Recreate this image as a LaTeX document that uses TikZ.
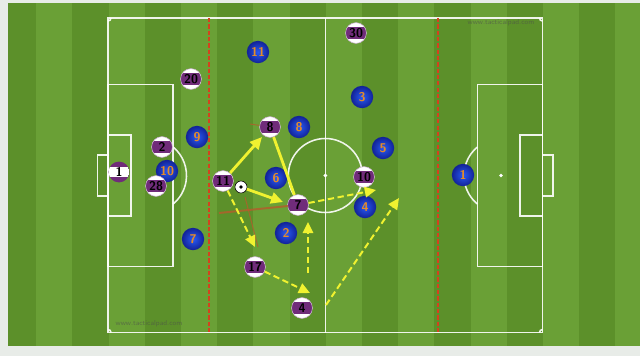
\documentclass[tikz,border=0pt]{standalone}
\usepackage{tikz}
\usetikzlibrary{arrows.meta}
\definecolor{grasslight}{RGB}{106,160,54}
\definecolor{grassdark}{RGB}{92,144,42}
\definecolor{bordergray}{RGB}{232,236,232}
\definecolor{zonered}{RGB}{212,66,30}
\definecolor{passyellow}{RGB}{240,242,48}
\definecolor{runbrown}{RGB}{176,96,44}
\definecolor{shirtpurple}{RGB}{112,44,122}
\definecolor{shirtblue}{RGB}{40,90,245}
\definecolor{rimblue}{RGB}{18,34,150}
\definecolor{numorange}{RGB}{230,140,40}

\begin{document}
\begin{tikzpicture}[x=0.025cm, y=-0.025cm,
    pitchline/.style={white, line width=1.1pt, opacity=0.9},
    zone/.style={zonered, line width=1.4pt, dash pattern=on 3pt off 1.5pt},
    home/.style={circle, fill=white, draw=shirtpurple!40, minimum size=0.52cm, inner sep=0pt,
        font=\sffamily\bfseries\small, text=black,
        path picture={\fill[shirtpurple] ([yshift=-4pt]path picture bounding box.west) rectangle ([yshift=4pt]path picture bounding box.east);}},
    keeper/.style={circle, fill=shirtpurple, minimum size=0.52cm, inner sep=0pt,
        font=\sffamily\bfseries\small, text=black,
        path picture={\fill[white] ([yshift=-3.6pt]path picture bounding box.west) rectangle ([yshift=3.6pt]path picture bounding box.east);}},
    away/.style={circle, inner color=shirtblue, outer color=rimblue, minimum size=0.56cm, inner sep=0pt,
        font=\sffamily\bfseries\small, text=numorange},
    ballnode/.style={circle, fill=white, draw=black, minimum size=0.3cm, inner sep=0pt,
        path picture={\fill[black] (path picture bounding box.center) circle[radius=1.4pt];}},
    pass/.style={passyellow, line width=2pt, -{Triangle[length=3mm, width=2.8mm]}},
    run/.style={passyellow, line width=1.4pt, dash pattern=on 4.5pt off 2.5pt, -{Triangle[length=2.8mm, width=2.6mm]}},
    drift/.style={runbrown, line width=1.4pt, opacity=0.85},
    credit/.style={font=\sffamily\tiny, text=black!70, opacity=0.6, inner sep=0pt}]

\useasboundingbox (0,0) rectangle (640,356);
\fill[bordergray] (0,0) rectangle (640,356);
\begin{scope}
\clip (8,3) rectangle (640,346);
\fill[grasslight] (8,3) rectangle (640,346);
\foreach \i in {0,2,...,16}
    \fill[grassdark] ({\i*36.2},3) rectangle ({\i*36.2+36.2},346);
\end{scope}

% pitch
\draw[pitchline] (108,18) rectangle (542.5,332.5);
\draw[pitchline] (325.3,18) -- (325.3,332.5);
\draw[pitchline] (325.3,175.5) circle[radius=0.925cm];
\fill[white] (325.3,175.5) circle[radius=1.4pt];
\draw[pitchline] (108,84.5) rectangle (173,266.5);
\draw[pitchline] (108,135) rectangle (131,216);
\draw[pitchline] (97.5,155) rectangle (108,196);
\draw[pitchline] (173,146.9) arc[start angle=50.6, end angle=-50.6, radius=0.925cm];
\draw[pitchline] (477.5,84.5) rectangle (542.5,266.5);
\draw[pitchline] (520,135) rectangle (542.5,216);
\draw[pitchline] (542.5,155) rectangle (553,196);
\draw[pitchline] (477.5,146.9) arc[start angle=129.4, end angle=230.6, radius=0.925cm];
\fill[white] (501,175.5) circle[radius=1.4pt];
\draw[pitchline] (111,18) arc[start angle=0, end angle=-90, radius=0.075cm];
\draw[pitchline] (539.5,18) arc[start angle=180, end angle=270, radius=0.075cm];
\draw[pitchline] (108,329.5) arc[start angle=90, end angle=0, radius=0.075cm];
\draw[pitchline] (539.5,332.5) arc[start angle=180, end angle=90, radius=0.075cm];
\draw[zone] (209,18) -- (209,332.5);
\draw[zone] (438,18) -- (438,332.5);

\node[credit] (credL) at (149,324) {www.tacticalpad.com};
\node[credit] (credR) at (501,23) {www.tacticalpad.com};

% blue team
\node[away] (a11) at (258,52) {11};
\node[away] (a9) at (197,137) {9};
\node[away] (a10) at (167,171) {10};
\node[away] (a7) at (193,239) {7};
\node[away] (a8) at (299,127) {8};
\node[away] (a6) at (276,178) {6};
\node[away] (a2) at (286,233) {2};
\node[away] (a3) at (362,97) {3};
\node[away] (a5) at (383,148) {5};
\node[away] (a4) at (365,207) {4};
\node[away] (a1) at (463,175) {1};

% purple team
\node[keeper] (gk) at (119,172) {1};
\node[home] (h2) at (162,147) {2};
\node[home] (h28) at (156,186) {28};
\node[home] (h20) at (191,79) {20};
\node[home] (h11) at (223,181) {11};
\node[home] (h8) at (270,127) {8};
\node[home] (h7) at (298,205) {7};
\node[home] (h17) at (255,267) {17};
\node[home] (h4) at (302,308) {4};
\node[home] (h10) at (364,177) {10};
\node[home] (h30) at (356,33) {30};
\node[ballnode] (ball) at (241,187) {};

\coordinate (d1s) at (219,213);
\coordinate (d1e) at (288,206);
\coordinate (d2s) at (245,197);
\coordinate (d2e) at (258,247);
\coordinate (d3s) at (250,124);
\draw[drift] (d1s) -- (d1e);
\draw[drift, line width=0.7pt] (d2s) -- (d2e);
\draw[drift, line width=0.7pt] (d3s) -- (h8);

\coordinate (t8) at (262,137);
\coordinate (t7) at (283,202);
\draw[pass] (h11) -- (t8);
\draw[pass, -] (h8) -- (h7);
\draw[pass] (ball) -- (t7);

\coordinate (r1) at (376,190);
\coordinate (r2) at (255,247);
\coordinate (r3) at (310,293);
\coordinate (r4s) at (308,273);
\coordinate (r4) at (308,222);
\coordinate (r5s) at (326,305);
\coordinate (r5) at (399,198);
\draw[run] (h7) -- (r1);
\draw[run] (h11) -- (r2);
\draw[run] (h17) -- (r3);
\draw[run] (r4s) -- (r4);
\draw[run] (r5s) -- (r5);
\end{tikzpicture}
\end{document}
